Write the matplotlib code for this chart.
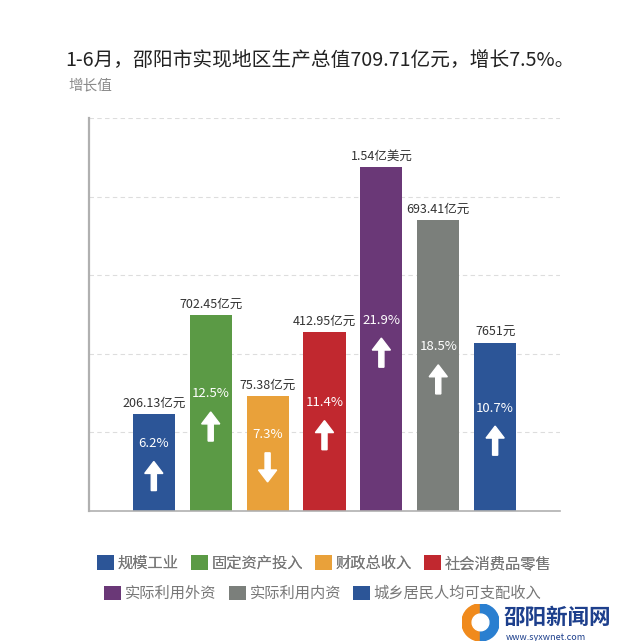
import matplotlib
matplotlib.use('Agg')
import matplotlib.pyplot as plt
from matplotlib.patches import Patch, Wedge

plt.rcParams['font.family'] = ['Noto Sans CJK SC', 'DejaVu Sans']

# 数据
categories = ['规模工业', '固定资产投入', '财政总收入', '社会消费品零售',
              '实际利用外资', '实际利用内资', '城乡居民人均可支配收入']
growth = [6.2, 12.5, 7.3, 11.4, 21.9, 18.5, 10.7]
amounts = ['206.13亿元', '702.45亿元', '75.38亿元', '412.95亿元',
           '1.54亿美元', '693.41亿元', '7651元']
direction = ['up', 'up', 'down', 'up', 'up', 'up', 'up']
colors = ['#2c5597', '#5b9a45', '#e9a13a', '#c1282f',
          '#6a3877', '#7b7f7b', '#2c5597']

fig = plt.figure(figsize=(6.2, 6.41), dpi=100)
ax = fig.add_axes([0.1435, 0.2028, 0.7597, 0.613])

x = list(range(len(categories)))
bars = ax.bar(x, growth, width=0.74, color=colors, zorder=2)

ax.set_xlim(-1.14, 7.14)
ax.set_ylim(0, 25)
ax.set_yticks([5, 10, 15, 20, 25])
ax.yaxis.grid(True, linestyle=(0, (4, 3)), color='#dddddd', linewidth=0.8, zorder=0)
ax.tick_params(left=False, bottom=False, labelleft=False, labelbottom=False)
for s in ['top', 'right']:
    ax.spines[s].set_visible(False)
ax.spines['left'].set_color('#b0b0b0')
ax.spines['left'].set_linewidth(1.6)
ax.spines['bottom'].set_color('#b0b0b0')
ax.spines['bottom'].set_linewidth(1.2)

for xi, h, amt, d in zip(x, growth, amounts, direction):
    # 数值标签
    ax.annotate(amt, (xi, h), xytext=(0, 3), textcoords='offset points',
                ha='center', va='bottom', fontsize=9, color='#333333')
    # 百分比和箭头
    ly = h / 2 + 1.2
    ax.text(xi, ly, f'{h}%', ha='center', va='center', fontsize=9.5,
            color='white', zorder=3)
    top, bottom = ly - 1.15, ly - 3.0
    if d == 'up':
        ax.arrow(xi, bottom, 0, top - bottom, width=0.09, head_width=0.32,
                 head_length=0.76, length_includes_head=True,
                 color='white', zorder=3)
    else:
        ax.arrow(xi, top, 0, bottom - top, width=0.09, head_width=0.32,
                 head_length=0.76, length_includes_head=True,
                 color='white', zorder=3)

fig.text(0.516, 0.906, '1-6月，邵阳市实现地区生产总值709.71亿元，增长7.5%。',
         ha='center', va='center', fontsize=14.2, color='#222222')
fig.text(0.11, 0.867, '增长值', ha='left', va='center', fontsize=10.5,
         color='#8a8a8a')

# 图例，两行居中
handles = [Patch(facecolor=c) for c in colors]
legend_args = dict(loc='center', frameon=False, fontsize=11,
                   handlelength=1.1, handleheight=1.1, handletextpad=0.25,
                   columnspacing=0.8, labelcolor='#777777')
leg1 = fig.legend(handles[:4], categories[:4], ncol=4,
                  bbox_to_anchor=(0.523, 0.121), **legend_args)
leg2 = fig.legend(handles[4:], categories[4:], ncol=3,
                  bbox_to_anchor=(0.521, 0.074), **legend_args)
fig.add_artist(leg1)

# 水印
lax = fig.add_axes([0.745, 0.0, 0.06, 0.058])
lax.set_xlim(-1, 1)
lax.set_ylim(-1, 1)
lax.set_aspect('equal')
lax.axis('off')
lax.add_patch(Wedge((0, 0), 1, 90, 270, color='#f08a1c'))
lax.add_patch(Wedge((0, 0), 1, -90, 90, color='#2a7fd0'))
lax.add_patch(Wedge((0, 0), 0.45, 0, 360, color='white'))
fig.text(0.813, 0.037, '邵阳新闻网', ha='left', va='center', fontsize=15.5,
         fontweight='bold', color='#1d3f8c')
fig.text(0.815, -0.002, 'www.syxwnet.com', ha='left', va='bottom', fontsize=6.5,
         color='#1d3f8c')

fig.savefig('out.png', dpi=100)
